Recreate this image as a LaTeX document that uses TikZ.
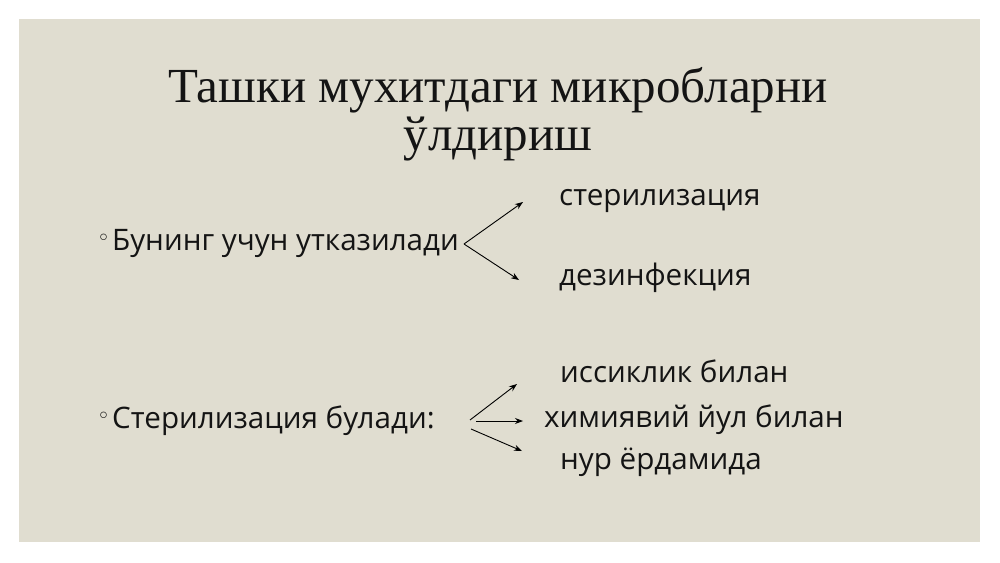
\documentclass[tikz,border=0pt]{standalone}
\usepackage{fontspec}
\setmainfont{Open Sans}
\newfontfamily\titlefont{Liberation Serif}
\newfontfamily\bulletfont{DejaVu Sans}
\usetikzlibrary{arrows.meta}

\definecolor{slidebg}{RGB}{224,221,208}
\definecolor{inktext}{RGB}{20,20,20}

\newcommand{\hollowdot}{{\bulletfont\fontsize{22}{22}\selectfont\raisebox{5pt}{◦}}\hspace{2pt}}

\tikzset{
  item/.style={anchor=base west, inner sep=0pt, text=inktext,
    font=\fontsize{29.6}{34}\selectfont},
  branch/.style={-{Stealth[length=8pt,width=6pt]}, line width=0.9pt, black}
}

\begin{document}
\begin{tikzpicture}[x=1pt,y=-1pt]
% Page and slide
\useasboundingbox (0,0) rectangle (1000,562);
\fill[white] (0,0) rectangle (1000,562);
\fill[slidebg] (19,19) rectangle (980,542);
% Title
\node[anchor=base, inner sep=0pt, align=center, text=inktext,
  font=\titlefont\fontsize{49}{48}\selectfont] (title) at (498,150)
  {Ташки мухитдаги микробларни\\ўлдириш};
% First bullet and its two branches
\node[item] (first) at (97,250) {\hollowdot Бунинг учун утказилади};
\node[item] (sterilize) at (559,205) {стерилизация};
\node[item] (disinfect) at (559,285) {дезинфекция};
\coordinate (fork1) at (464,244);
\coordinate (tip1a) at (523,202);
\coordinate (tip1b) at (519,280);
\draw[branch] (fork1) -- (tip1a);
\draw[branch] (fork1) -- (tip1b);
% Second bullet and its three branches
\node[item] (second) at (97,428) {\hollowdot Стерилизация булади:};
\node[item] (heat) at (560,382) {иссиклик билан};
\node[item] (chem) at (544,427) {химиявий йул билан};
\node[item] (ray) at (560,469) {нур ёрдамида};
\coordinate (fork2a) at (470,420);
\coordinate (fork2b) at (476,421);
\coordinate (fork2c) at (471,429);
\coordinate (tip2a) at (517,384);
\coordinate (tip2b) at (523,421);
\coordinate (tip2c) at (522,451);
\draw[branch] (fork2a) -- (tip2a);
\draw[branch] (fork2b) -- (tip2b);
\draw[branch] (fork2c) -- (tip2c);
\end{tikzpicture}
\end{document}
